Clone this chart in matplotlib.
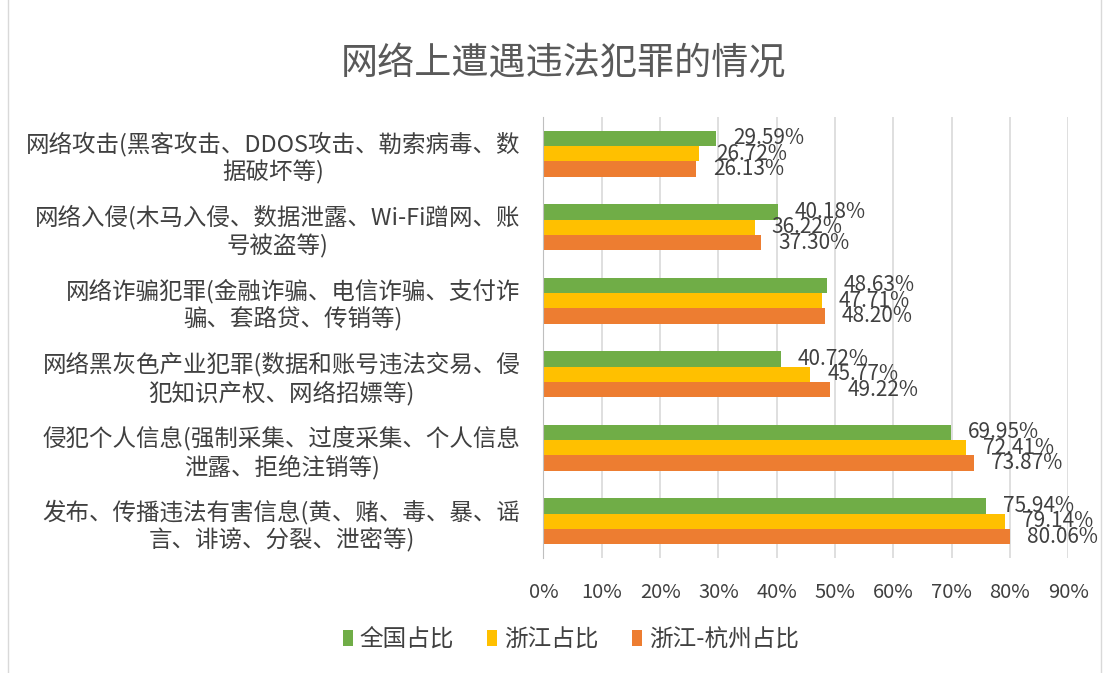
import numpy as np
import matplotlib.pyplot as plt
from matplotlib.patches import Rectangle

plt.rcParams['font.family'] = ['Noto Sans CJK SC', 'DejaVu Sans']

categories = [
    "网络攻击(黑客攻击、DDOS攻击、勒索病毒、数\n据破坏等)",
    "网络入侵(木马入侵、数据泄露、Wi-Fi蹭网、账\n号被盗等)",
    "网络诈骗犯罪(金融诈骗、电信诈骗、支付诈\n骗、套路贷、传销等)",
    "网络黑灰色产业犯罪(数据和账号违法交易、侵\n犯知识产权、网络招嫖等)",
    "侵犯个人信息(强制采集、过度采集、个人信息\n泄露、拒绝注销等)",
    "发布、传播违法有害信息(黄、赌、毒、暴、谣\n言、诽谤、分裂、泄密等)",
]
national = [29.59, 40.18, 48.63, 40.72, 69.95, 75.94]
zhejiang = [26.72, 36.22, 47.71, 45.77, 72.41, 79.14]
hangzhou = [26.13, 37.30, 48.20, 49.22, 73.87, 80.06]
series_names = ["全国占比", "浙江占比", "浙江-杭州占比"]
colors = ["#70AD47", "#FFC000", "#ED7D31"]
xticks = [0, 10, 20, 30, 40, 50, 60, 70, 80, 90]

fig = plt.figure(figsize=(11.04, 6.73), dpi=100)
ax = fig.add_axes([0.4923, 0.1709, 0.4753, 0.6553])

y = np.arange(len(categories))
h = 0.208
text_color = "#404040"
for i, (vals, name, c) in enumerate(zip([national, zhejiang, hangzhou], series_names, colors)):
    pos = y + (i - 1) * h
    ax.barh(pos, vals, height=h, color=c, label=name, zorder=3)
    # value labels just past the bar end (they overlap, as in the original)
    for p, v in zip(pos, vals):
        ax.annotate(f"{v:.2f}%", (v, p), xytext=(17, 0), textcoords="offset pixels",
                    va="center", ha="left", fontsize=15, color=text_color, zorder=4)

ax.set_ylim(len(categories) - 0.5, -0.5)
ax.set_xlim(0, 90)
ax.set_xticks(xticks)
ax.set_xticklabels([f"{t}%" for t in xticks], fontsize=14.5, color=text_color)
ax.set_yticks(y)
ax.set_yticklabels(categories, fontsize=16.9, color=text_color, multialignment="center")
ax.tick_params(axis="both", length=0)
ax.tick_params(axis="x", pad=17)
ax.tick_params(axis="y", pad=16.5)
ax.grid(axis="x", color="#D9D9D9", linewidth=1.2, zorder=0)
for s in ["top", "right", "bottom"]:
    ax.spines[s].set_visible(False)
ax.spines["left"].set_color("#BFBFBF")
ax.spines["left"].set_zorder(5)

fig.text(0.510, 0.905, "网络上遭遇违法犯罪的情况", ha="center", va="center",
         fontsize=26.7, color="#595959", fontweight="light")

fig.legend(loc="center", bbox_to_anchor=(0.517, 0.049), ncol=3, frameon=False,
           fontsize=17, handlelength=0.42, handleheight=0.64, handletextpad=0.3,
           columnspacing=1.4, labelcolor=text_color)

fig.patches.append(Rectangle((0.007, -0.01), 0.99, 1.2, transform=fig.transFigure,
                             fill=False, edgecolor="#D9D9D9", linewidth=1))

fig.savefig("out.png", dpi=100)
